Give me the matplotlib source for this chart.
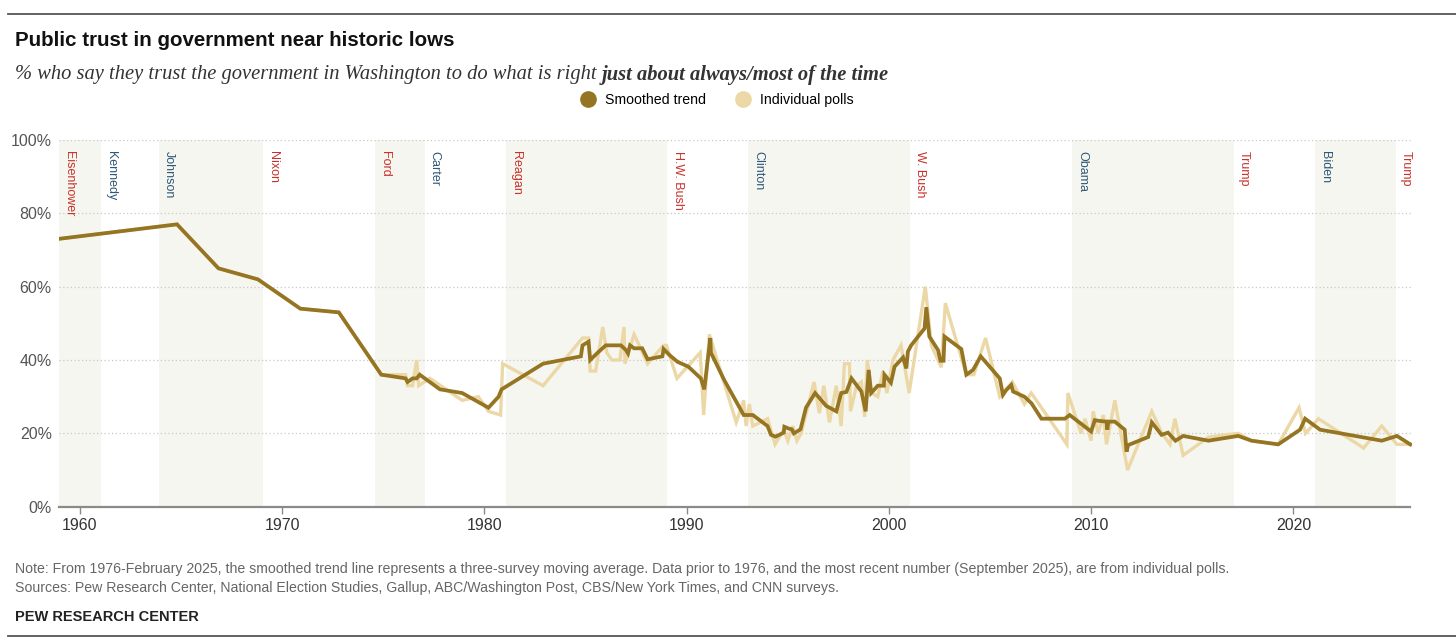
import matplotlib
matplotlib.use("Agg")
import matplotlib.pyplot as plt
from matplotlib.lines import Line2D

# smoothed trend (three-survey moving average; single polls before 1976)
trend_years = [1958.9, 1964.8, 1966.85, 1968.8, 1970.9, 1972.8, 1974.9,
               1976.1, 1976.2, 1976.45, 1976.65, 1976.8, 1977.8, 1978.9, 1980.2, 1980.7, 1980.85,
               1982.9, 1984.77, 1984.85, 1985.15, 1985.23, 1985.6, 1986.0, 1986.75, 1987.0,
               1987.1, 1987.2, 1987.4, 1987.8, 1988.07, 1988.8, 1988.86, 1989.14, 1989.55,
               1990.08, 1990.7, 1990.87, 1991.17, 1991.2, 1991.86, 1992.82, 1993.27, 1994.0,
               1994.17, 1994.4, 1994.8, 1994.83, 1995.05, 1995.2, 1995.3, 1995.63, 1995.9,
               1996.35, 1996.9, 1997.4, 1997.64, 1997.9, 1998.15, 1998.64, 1998.85, 1999.0,
               1999.12, 1999.45, 1999.75, 1999.78, 2000.1, 2000.28, 2000.7, 2000.86, 2000.94,
               2001.1, 2001.76, 2001.85, 2002.0, 2002.43, 2002.55, 2002.7, 2002.75, 2003.58,
               2003.83, 2004.16, 2004.54, 2005.48, 2005.64, 2005.8, 2006.05, 2006.14, 2006.7,
               2007.05, 2007.54, 2008.7, 2008.94, 2010.0, 2010.18, 2010.4, 2010.76, 2010.8,
               2010.85, 2011.17, 2011.66, 2011.75, 2011.83, 2012.82, 2013.0, 2013.48, 2013.8,
               2014.17, 2014.55, 2015.8, 2017.27, 2017.93, 2019.25, 2020.33, 2020.58, 2021.32,
               2024.37, 2025.12, 2025.78]
trend_vals = [73, 77, 65, 62, 54, 53, 36,
              35, 34, 35, 35, 36, 32, 31, 27, 30, 32,
              39, 41, 44, 45, 40, 42, 44, 44, 42.7,
              41.8, 44, 43.2, 43.2, 40.2, 41, 43, 41.4, 39.5,
              38.2, 35, 32, 46, 42, 34.5, 25, 25, 22,
              19.6, 19.1, 20.2, 21.8, 21.3, 21.1, 20, 21.1, 27,
              31, 27.5, 26, 31, 31.3, 35, 31.4, 26, 37.3,
              31, 33, 33, 36, 33.8, 38.2, 40.7, 37.7, 42.3,
              44, 48.6, 54.4, 46.4, 42.7, 39.8, 39.8, 46.4, 43,
              36, 37.3, 41, 35, 30.5, 31.8, 33.2, 31.4, 30,
              28.2, 24, 24, 25, 20.5, 23.6, 23.4, 23.2, 21,
              23.2, 23.2, 21, 15, 16.8, 19, 23, 19.6, 20.2,
              18, 19.3, 18, 19.3, 18, 17, 21, 24, 21,
              18, 19.3, 17]

# individual polls
poll_years = [1958.9, 1964.8, 1966.85, 1968.8, 1970.9, 1972.8, 1974.9,
              1976.1, 1976.2, 1976.45, 1976.65, 1976.75, 1977.3, 1978.9, 1979.7, 1980.2, 1980.8,
              1980.9, 1982.9, 1984.85, 1985.15, 1985.23, 1985.5, 1985.85, 1986.05, 1986.3,
              1986.7, 1986.9, 1986.95, 1987.4, 1988.07, 1988.86, 1989.0, 1989.52, 1990.67,
              1990.84, 1991.12, 1992.45, 1992.82, 1992.94, 1993.1, 1993.27, 1994.0, 1994.37,
              1994.8, 1995.0, 1995.25, 1995.45, 1995.66, 1996.3, 1996.56, 1996.78, 1997.06,
              1997.4, 1997.64, 1997.8, 1998.05, 1998.1, 1998.4, 1998.64, 1998.8, 1998.93,
              1999.15, 1999.45, 1999.7, 1999.9, 2000.2, 2000.6, 2001.0, 2001.8, 2002.1,
              2002.59, 2002.79, 2003.4, 2003.83, 2004.2, 2004.78, 2005.48, 2006.1, 2006.7,
              2007.04, 2008.8, 2008.85, 2009.5, 2009.7, 2010.0, 2010.1, 2010.35, 2010.6,
              2010.76, 2011.17, 2011.8, 2013.0, 2013.5, 2013.9, 2014.14, 2014.55, 2015.8,
              2017.27, 2017.93, 2019.25, 2020.28, 2020.6, 2021.24, 2023.47, 2024.37, 2025.12,
              2025.78]
poll_vals = [73, 77, 65, 62, 54, 53, 36,
             36, 33, 33, 40, 33, 35, 29, 30, 26, 25,
             39, 33, 46, 46, 37, 37, 49, 42, 40,
             40, 49, 39, 47, 39, 44, 44, 35, 42,
             25, 47, 23, 29, 22, 28, 22, 24, 17,
             21, 18, 22, 18, 20, 34, 25.5, 33, 23,
             33, 22, 39, 39, 26, 33, 34, 24.5, 40,
             31, 30, 37, 31, 40, 44, 31, 60, 44,
             38, 55.5, 44, 36, 36, 46, 30, 34, 28,
             31, 17, 31, 20, 24, 18, 26, 20, 25,
             17, 29, 10, 26, 20, 17, 24, 14, 19,
             20, 18, 17, 27, 20, 24, 16, 22, 17,
             17]

presidents = ["Eisenhower", "Kennedy", "Johnson", "Nixon", "Ford", "Carter", "Reagan",
              "H.W. Bush", "Clinton", "W. Bush", "Obama", "Trump", "Biden", "Trump"]
term_start = [1953.05, 1961.05, 1963.9, 1969.05, 1974.6, 1977.05, 1981.05,
              1989.05, 1993.05, 2001.05, 2009.05, 2017.05, 2021.05, 2025.05]
party = ["R", "D", "D", "R", "R", "D", "R", "R", "D", "R", "D", "R", "D", "R"]

W, H = 1456, 642
x0, x1 = 1958.95, 2025.85

trend_color = "#957522"
poll_color = "#ebd8a6"
party_color = {"R": "#c8322a", "D": "#2f5878"}

fig = plt.figure(figsize=(W / 100, H / 100), dpi=100)
fig.patch.set_facecolor("white")
sans = ["Liberation Sans", "DejaVu Sans"]


def fx(px):
    return px / W


def fy(py):
    return 1 - py / H


ax = fig.add_axes([fx(58.7), fy(506.7), fx(1411.7 - 58.7), (506.7 - 140) / H])

# shading of alternating presidencies
ends = term_start[1:] + [x1]
for i, (s, e) in enumerate(zip(term_start, ends)):
    if i % 2 == 0:
        shade = "#f6f6f0" if i < len(presidents) - 1 else "#fafaf7"
        ax.axvspan(max(s, x0), e, color=shade, lw=0, zorder=0)
    ax.text(max(s, x0) + 0.5, 97, presidents[i], rotation=270, va="top", ha="center",
            color=party_color[party[i]], fontsize=9, family=sans, zorder=3)

for g in [20, 40, 60, 80, 100]:
    ax.axhline(g, color="#c8c8c8", lw=0.9, ls=(0, (1, 2)), zorder=1)

ax.plot(poll_years, poll_vals, color=poll_color, lw=2.4, zorder=2, solid_joinstyle="miter")
ax.plot(trend_years, trend_vals, color=trend_color, lw=2.7, zorder=3, solid_joinstyle="miter")

ax.set_xlim(x0, x1)
ax.set_ylim(0, 100)
for side in ["top", "right", "left"]:
    ax.spines[side].set_visible(False)
ax.spines["bottom"].set_color("#8a8a8a")
ax.spines["bottom"].set_linewidth(1.6)
ax.spines["bottom"].set_bounds(x0, 2025.76)

ax.set_xticks(range(1960, 2021, 10))
ax.set_yticks([0, 20, 40, 60, 80, 100])
ax.set_yticklabels(["0%", "20%", "40%", "60%", "80%", "100%"])
ax.tick_params(axis="x", length=5, width=1, color="#8a8a8a", labelsize=11.5,
               labelcolor="#333333", pad=3)
ax.tick_params(axis="y", length=0, labelsize=11.5, labelcolor="#555555", pad=5)
for lab in ax.get_xticklabels() + ax.get_yticklabels():
    lab.set_family(sans)

# top and bottom rules
fig.add_artist(Line2D([fx(8), 1], [fy(14), fy(14)], color="#555555", lw=1.3))
fig.add_artist(Line2D([fx(8), 1], [fy(636), fy(636)], color="#555555", lw=1.3))

fig.text(fx(15), fy(40), "Public trust in government near historic lows", fontsize=14.8,
         fontweight="bold", family=sans, va="center", color="#111111")
sub = fig.text(fx(15), fy(75), "% who say they trust the government in Washington to do what is right ",
               fontsize=14.8, style="italic", family="Liberation Serif", va="center", color="#333333")
fig.canvas.draw()
bb = sub.get_window_extent()
fig.text(bb.x1 / W, fy(75), "just about always/most of the time", fontsize=14.8,
         style="italic", fontweight="bold", family="Liberation Serif", va="center", color="#333333")

handles = [Line2D([], [], ls="none", marker="o", ms=11, color=trend_color),
           Line2D([], [], ls="none", marker="o", ms=11, color=poll_color)]
leg = fig.legend(handles, ["Smoothed trend", "Individual polls"], ncol=2, frameon=False,
                 loc="center", bbox_to_anchor=(fx(714), fy(100)), handletextpad=0.2,
                 columnspacing=1.6, prop={"family": sans, "size": 10.2})

note = ("Note: From 1976-February 2025, the smoothed trend line represents a three-survey moving average. "
        "Data prior to 1976, and the most recent number (September 2025), are from individual polls.")
src = ("Sources: Pew Research Center, National Election Studies, Gallup, ABC/Washington Post, "
       "CBS/New York Times, and CNN surveys.")
fig.text(fx(15), fy(569), note, fontsize=10.2, family=sans, color="#666666", va="center")
fig.text(fx(15), fy(588), src, fontsize=10.2, family=sans, color="#666666", va="center")
fig.text(fx(15), fy(617), "PEW RESEARCH CENTER", fontsize=10.5, fontweight="bold",
         family=sans, color="#222222", va="center")

fig.savefig("out.png", dpi=100)
